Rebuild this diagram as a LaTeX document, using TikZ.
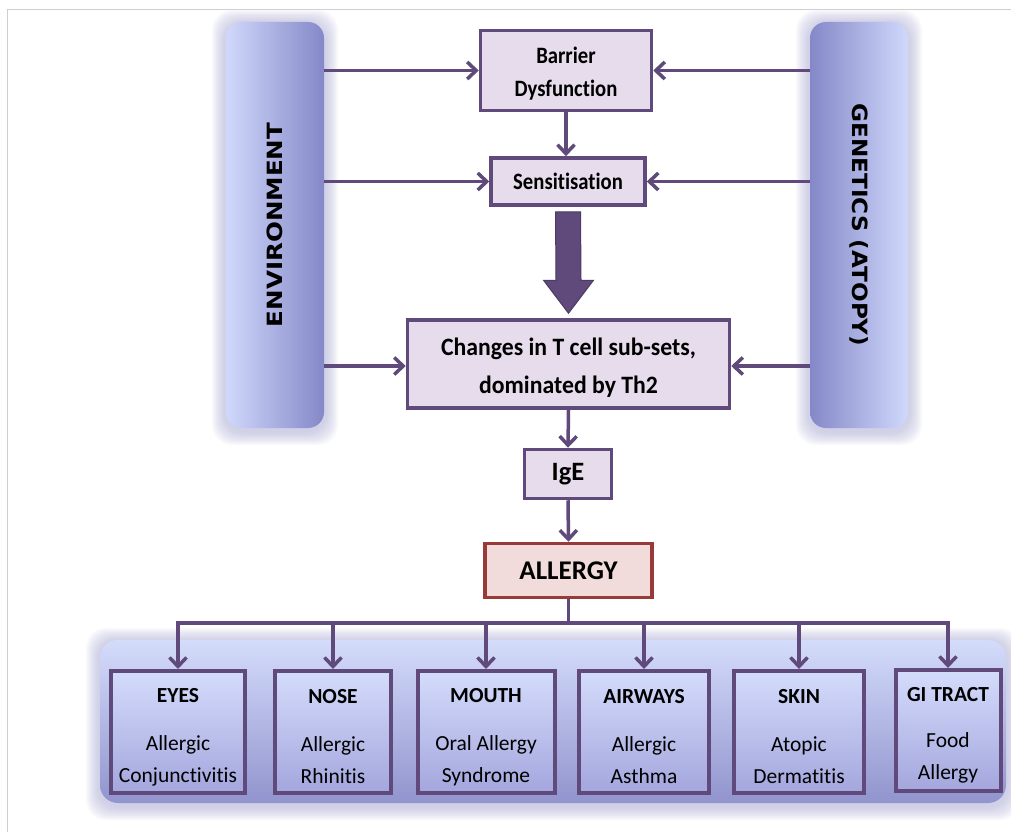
\documentclass[tikz,border=0pt]{standalone}
\usepackage{fontspec}
\setmainfont{Carlito}[Ligatures=NoCommon]
\newfontfamily\pillarfont{DejaVu Sans}
\usetikzlibrary{arrows.meta,calc}
\definecolor{linec}{HTML}{5F4A7B}
\definecolor{boxfill}{HTML}{E6DCEC}
\definecolor{allb}{HTML}{983A38}
\definecolor{allf}{HTML}{F2DCDB}
\definecolor{plight}{HTML}{D0D8FB}
\definecolor{pmid}{HTML}{C4CBF4}
\definecolor{pdark}{HTML}{8588C8}
\definecolor{glowc}{HTML}{B4B4DC}
\definecolor{framec}{HTML}{CFCFCF}
\definecolor{organtop}{HTML}{D4DCFB}
\definecolor{organbot}{HTML}{A4A6DD}
\newcommand\nx[2]{\scalebox{#1}[1]{#2}}
\tikzset{
  conn/.style={draw=linec, line width=3.5pt, -{Straight Barb[length=9pt,width=17pt]}},
  bus/.style={draw=linec, line width=3.5pt},
  topbox/.style={draw=linec, line width=3.5pt, fill=boxfill, align=center, inner sep=0pt},
  pillar/.style={rounded corners=16pt, inner sep=0pt, minimum width=98pt, minimum height=406pt},
  organ/.style={draw=linec, line width=4pt, top color=organtop, middle color=organtop, bottom color=organbot,
     align=center, inner sep=0pt, minimum height=122pt, font=\fontsize{21.5}{32}\selectfont},
}
\begin{document}
\begin{tikzpicture}[x=1pt,y=-1pt]
\useasboundingbox (0,0) rectangle (1011,832);
\fill[white] (0,0) rectangle (1011,832);
\draw[framec, line width=1pt] (7,832) -- (7,10) -- (1011,10);

% glows
\foreach \g in {14,13,...,1}{
  \fill[glowc, opacity=0.06, rounded corners=20pt] (226-\g,22-\g+2) rectangle (324+\g,428+\g+3);
  \fill[glowc, opacity=0.06, rounded corners=20pt] (810-\g,22-\g+2) rectangle (908+\g,428+\g+3);
  \fill[glowc, opacity=0.06, rounded corners=20pt] (100-\g,640-\g+2) rectangle (1006+\g,803+\g+3);
}

% pillars
\node[pillar, left color=plight, middle color=pmid, right color=pdark] (env) at (275,225)
  {\rotatebox{90}{\nx{1.17}{\pillarfont\bfseries\fontsize{21}{25}\selectfont ENVIRONMENT}}};
\node[pillar, left color=pdark, middle color=pmid, right color=plight] (gen) at (859,225)
  {\rotatebox{-90}{\nx{1.1}{\pillarfont\bfseries\fontsize{21}{25}\selectfont GENETICS (ATOPY)}}};

% bottom band
\shade[rounded corners=18pt, top color=organtop, middle color=organtop!92!pdark, bottom color=pdark!90]
  (100,640) rectangle (1006,803);

% top boxes
\node[topbox, minimum width=171pt, minimum height=80pt, font=\bfseries\fontsize{23.5}{33}\selectfont] (bar) at (566,70.5)
  {\rule{0pt}{22pt}\nx{0.88}{Barrier}\\\nx{0.88}{Dysfunction}};
\node[topbox, minimum width=154pt, minimum height=47pt, font=\bfseries\fontsize{23.5}{25}\selectfont] (sens) at (568,181.5)
  {\nx{0.88}{Sensitisation}};
\node[topbox, minimum width=322pt, minimum height=88pt, font=\bfseries\fontsize{25}{38}\selectfont] (chg) at (568.5,364)
  {\rule{0pt}{25pt}\nx{0.95}{Changes in T cell sub-sets,}\\\nx{0.95}{dominated by Th2}};
\node[topbox, minimum width=87pt, minimum height=49pt, font=\bfseries\fontsize{26.5}{28}\selectfont] (ige) at (568,474)
  {IgE};
\node[draw=allb, line width=3.5pt, fill=allf, inner sep=0pt, minimum width=167pt, minimum height=54pt,
  font=\bfseries\fontsize{27}{30}\selectfont] (all) at (568.5,570.5) {ALLERGY};

% side arrows
\draw[conn] (env.east |- bar.west) -- (bar.west);
\draw[conn] (env.east |- sens.west) -- (sens.west);
\draw[conn] (env.east |- 0,366) -- (chg.west |- 0,366);
\draw[conn] (gen.west |- bar.east) -- (bar.east);
\draw[conn] (gen.west |- sens.east) -- (sens.east);
\draw[conn] (gen.west |- 0,366) -- (chg.east |- 0,366);

% vertical flow
\draw[conn] (bar.south) -- (bar.south |- sens.north);
\draw[conn] (chg.south) -- (ige.north);
\draw[conn] (ige.south) -- (all.north);

% big arrow
\path (sens.south) ++(0,5) coordinate (bs);
\path (chg.north) ++(0,-5) coordinate (be);
\fill[linec, draw=linec!80!black, line width=1pt]
  ($(bs)+(-12.5,0)$) -- ($(bs)+(12.5,0)$) -- ($(be)+(12.5,-33)$) -- ($(be)+(25,-33)$) -- (be)
  -- ($(be)+(-25,-33)$) -- ($(be)+(-12.5,-33)$) -- cycle;

% organ boxes
\node[organ, minimum width=134pt] (eyes) at (178,732) {\rule{0pt}{24pt}\textbf{EYES}\\[16pt]Allergic\\Conjunctivitis};
\node[organ, minimum width=116pt] (nose) at (333,732) {\rule{0pt}{24pt}\textbf{NOSE}\\[16pt]Allergic\\Rhinitis};
\node[organ, minimum width=137pt] (mouth) at (486,732) {\rule{0pt}{24pt}\textbf{MOUTH}\\[16pt]Oral Allergy\\Syndrome};
\node[organ, minimum width=130pt] (air) at (644,732) {\rule{0pt}{24pt}\textbf{AIRWAYS}\\[16pt]Allergic\\Asthma};
\node[organ, minimum width=130pt] (skin) at (799,732) {\rule{0pt}{24pt}\textbf{SKIN}\\[16pt]Atopic\\Dermatitis};
\node[organ, minimum width=105pt, minimum height=121pt] (gi) at (948,730.5) {\rule{0pt}{24pt}\textbf{GI TRACT}\\[14pt]Food\\Allergy};

% bus
\coordinate (busy) at (0,623);
\draw[bus] (all.south) -- (all.south |- busy);
\draw[bus, line cap=rect] (eyes.north |- busy) -- (gi.north |- busy);
\foreach \b in {eyes,nose,mouth,air,skin,gi}{
  \draw[conn] (\b.north |- busy) -- (\b.north);
}
\end{tikzpicture}
\end{document}
